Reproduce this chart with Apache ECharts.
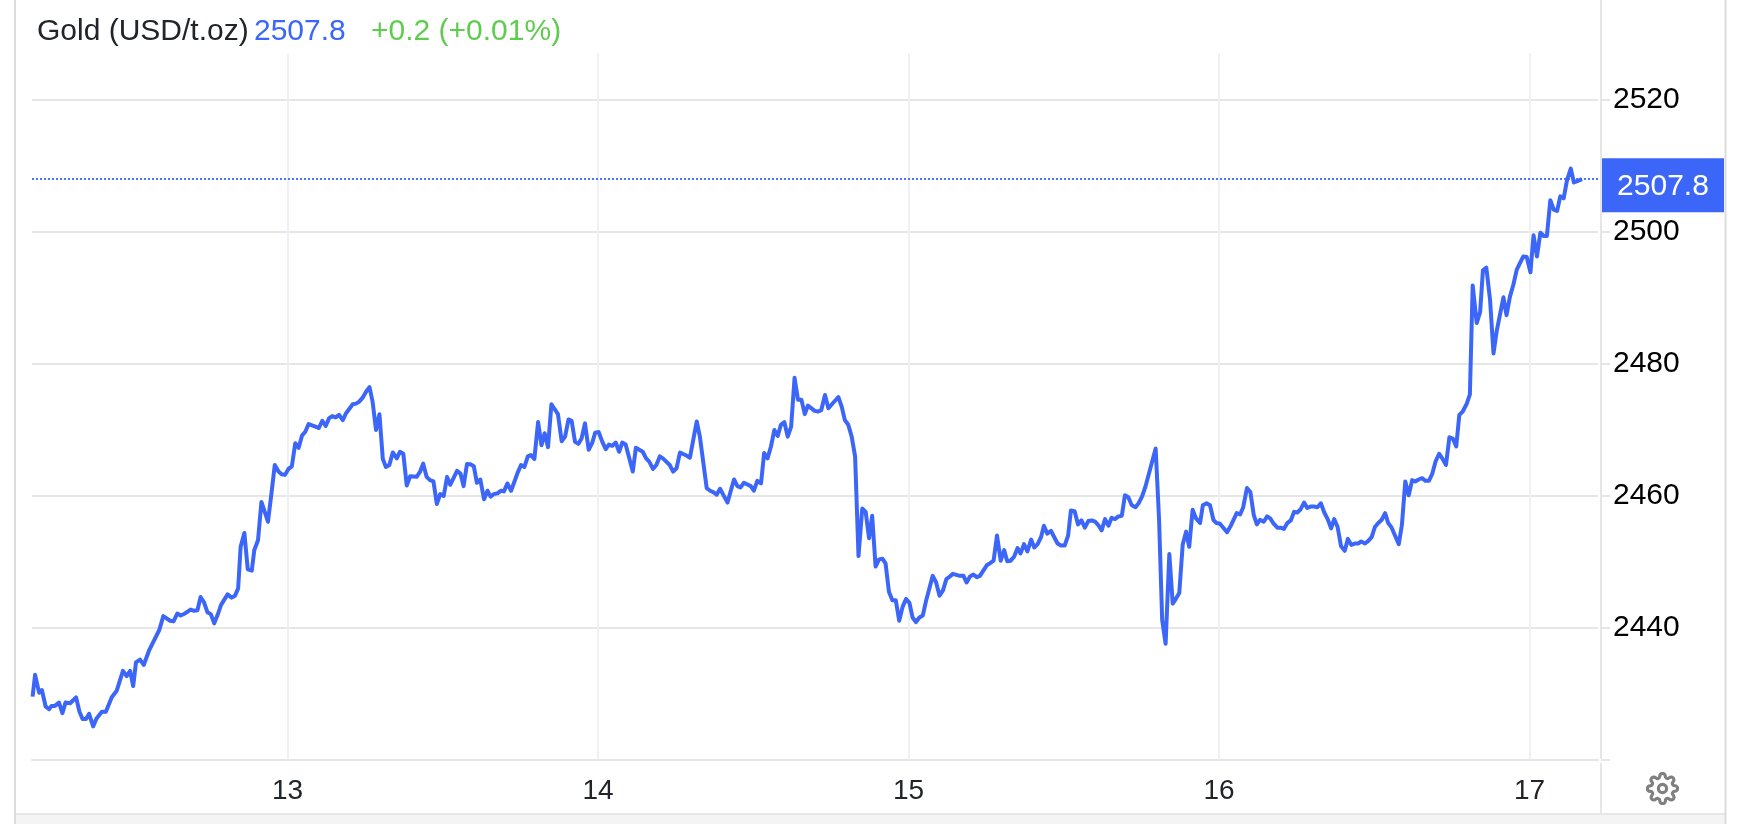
<!DOCTYPE html>
<html><head><meta charset="utf-8">
<style>html,body{margin:0;padding:0;background:#fff}#c{width:1742px;height:824px}</style>
<script src="https://cdn.jsdelivr.net/npm/echarts@6/dist/echarts.min.js"></script>
</head><body><div id="c"></div>
<script>
const seriesName = 'Gold (USD/t.oz)';
const lastPriceText = '2507.8';
const changeText = '+0.2 (+0.01%)';
const lastLevel = 2508.0;
const dayTicks = [13, 14, 15, 16, 17];
const priceTicks = [2420, 2440, 2460, 2480, 2500, 2520];
const priceLabels = [2440, 2460, 2480, 2500, 2520];

const times = [
12.179,12.187,12.200,12.209,12.221,12.232,12.240,12.251,12.264,12.275,12.285,12.300,12.319,12.330,12.340,12.351,12.361,12.374,12.385,12.402,12.415,12.434,12.450,12.470,12.482,12.493,12.503,12.512,12.525,12.537,12.555,12.587,12.600,12.622,12.633,12.645,12.656,12.670,12.688,12.699,12.710,12.720,12.731,12.742,12.753,12.764,12.775,12.786,12.807,12.820,12.831,12.841,
12.849,12.861,12.872,12.885,12.893,12.905,12.916,12.937,12.947,12.959,12.971,12.981,12.992,13.003,13.014,13.025,13.036,13.047,13.057,13.068,13.090,13.101,13.112,13.123,13.134,13.144,13.155,13.166,13.178,13.188,13.210,13.221,13.231,13.242,13.253,13.264,13.274,13.285,13.296,13.307,13.317,13.328,13.339,13.352,13.362,13.373,13.384,13.395,13.416,13.427,13.437,13.448,13.459,13.470,13.481,13.492,13.503,13.514,13.524,13.546,13.557,13.567,13.578,13.589,13.600,13.610,13.621,13.633,13.644,13.654,13.665,13.676,13.687,13.697,13.708,13.720,13.731,13.741,13.752,13.763,13.774,13.784,13.795,13.807,13.818,13.828,13.839,13.850,13.871,13.883,13.894,13.905,13.915,13.926,13.937,13.947,13.958,13.970,13.981,13.991,14.002,
14.014,14.025,14.035,14.046,14.057,14.068,14.078,14.089,14.112,14.122,14.144,14.155,14.165,14.177,14.188,14.199,14.209,14.231,14.242,14.253,14.264,14.286,14.296,14.318,14.328,14.350,14.361,14.371,14.382,14.393,14.417,14.438,14.449,14.459,14.470,14.492,14.502,14.513,14.525,14.535,14.546,14.557,14.568,14.579,14.589,14.600,14.611,14.622,14.633,14.644,14.655,14.666,14.676,14.698,14.708,14.719,14.731,14.742,14.774,14.785,14.795,14.806,14.817,14.828,14.839,14.851,14.862,14.873,14.883,14.894,14.905,14.916,14.926,14.937,14.948,14.959,14.970,
14.981,14.992,15.003,15.013,15.024,15.035,15.046,15.056,15.078,15.089,15.100,15.111,15.122,15.133,15.143,15.165,15.177,15.187,15.198,15.209,15.220,15.230,15.252,15.262,15.274,15.285,15.297,15.308,15.318,15.329,15.340,15.351,15.361,15.372,15.383,15.395,15.405,15.416,15.427,15.436,15.447,15.459,15.480,15.491,15.503,15.514,15.523,15.535,15.546,15.557,15.568,15.579,15.590,15.601,15.611,15.622,15.633,15.644,15.654,15.665,15.676,15.687,15.697,15.708,15.719,15.731,15.741,15.752,15.763,15.796,15.807,15.817,15.828,15.840,15.851,15.862,15.872,15.883,15.894,15.904,15.915,15.926,15.939,15.948,15.960,15.971,15.982,15.992,16.003,16.026,16.037,16.057,16.068,16.078,16.090,16.101,16.112,16.122,16.132,
16.144,16.155,16.165,16.176,16.188,16.199,16.209,16.220,16.231,16.242,16.252,16.263,16.274,16.284,16.295,16.306,16.317,16.328,16.339,16.350,16.361,16.371,16.382,16.393,16.405,16.415,16.426,16.437,16.448,16.458,16.470,16.481,16.492,16.502,16.513,16.524,16.535,16.545,16.556,16.579,16.589,16.600,16.611,16.622,16.632,16.643,16.654,16.665,16.676,16.687,16.698,16.709,16.719,16.731,16.742,16.753,16.764,16.774,16.785,16.798,16.808,16.817,16.830,16.841,16.850,16.861,16.873,16.884,16.894,16.916,16.926,16.937,16.948,16.959,16.980,16.991,17.003,17.013,17.024,17.035,17.046,17.056,17.067,17.078,17.089,17.099,17.110,17.121,17.133,17.143,17.154,17.169
];
const prices = [
2429.6,2432.9,2430.2,2430.6,2428.1,2427.7,2428.2,2428.2,2428.7,2427.1,2428.7,2428.6,2429.5,2427.3,2426.2,2426.2,2427.0,2425.1,2426.3,2427.3,2427.3,2429.5,2430.5,2433.5,2432.7,2433.5,2431.2,2434.8,2435.2,2434.4,2436.7,2439.7,2441.8,2441.1,2441.0,2442.2,2441.9,2442.2,2442.8,2442.6,2442.7,2444.7,2443.9,2442.4,2442.1,2440.7,2442.0,2443.5,2445.1,2444.6,2444.9,2446.0,
2452.3,2454.4,2448.9,2448.7,2451.8,2453.3,2459.1,2456.1,2459.9,2464.7,2463.7,2463.3,2463.2,2464.1,2464.5,2468.0,2467.3,2469.2,2469.7,2470.9,2470.5,2470.3,2471.4,2470.6,2471.8,2472.1,2471.9,2472.3,2471.5,2472.5,2473.9,2474.0,2474.3,2474.9,2475.8,2476.5,2474.3,2470.0,2472.4,2465.6,2464.4,2464.7,2466.6,2465.7,2466.7,2466.4,2461.6,2463.0,2462.9,2463.7,2464.9,2462.9,2462.4,2462.2,2458.8,2460.3,2460.0,2462.9,2461.7,2463.8,2463.4,2461.5,2464.85,2464.8,2464.5,2462.0,2462.5,2459.5,2460.8,2459.9,2460.3,2460.4,2460.8,2460.7,2461.9,2460.8,2462.2,2463.5,2464.7,2464.4,2466.0,2466.2,2465.6,2471.2,2467.7,2469.5,2467.4,2473.9,2472.4,2468.3,2469.0,2471.6,2471.4,2468.2,2467.9,2468.7,2471.0,2467.0,2468.0,2469.6,2469.7,
2468.2,2467.1,2467.8,2467.6,2468.1,2466.7,2468.1,2467.8,2463.7,2467.3,2466.7,2465.7,2465.2,2464.1,2464.7,2466.0,2465.7,2464.7,2463.7,2464.2,2466.6,2466.1,2465.8,2471.3,2469.0,2461.2,2460.8,2460.6,2460.2,2461.1,2459.0,2462.5,2461.5,2461.3,2462.0,2461.5,2460.8,2462.3,2461.9,2466.5,2465.7,2467.5,2470.0,2469.1,2470.8,2471.2,2469.0,2470.5,2477.9,2474.6,2474.6,2472.4,2473.7,2472.9,2472.8,2473.0,2475.3,2473.3,2475.0,2473.5,2471.5,2470.8,2469.0,2466.0,2450.9,2458.1,2457.6,2453.6,2457.0,2449.3,2450.4,2450.5,2449.8,2445.5,2444.2,2444.2,2441.1,
2443.2,2444.4,2443.8,2441.6,2440.9,2441.6,2441.9,2444.0,2447.9,2446.9,2444.9,2445.7,2447.4,2447.8,2448.2,2447.9,2447.9,2446.9,2447.8,2448.1,2447.7,2447.9,2449.5,2449.8,2450.2,2454.0,2450.2,2451.8,2450.1,2450.2,2450.8,2452.1,2451.3,2452.7,2451.6,2453.4,2452.2,2452.7,2453.8,2455.5,2454.3,2454.7,2452.8,2452.5,2452.5,2454.0,2457.8,2457.7,2455.7,2456.3,2455.2,2456.2,2456.3,2456.1,2455.6,2454.8,2456.5,2455.5,2456.7,2456.5,2456.9,2457.0,2460.1,2459.8,2458.6,2458.3,2458.9,2459.9,2461.4,2467.2,2456.4,2441.2,2437.6,2451.2,2443.7,2444.5,2445.3,2452.6,2454.6,2452.3,2457.9,2456.6,2455.9,2458.6,2458.9,2458.6,2456.4,2455.9,2455.8,2454.5,2455.4,2457.4,2457.2,2458.3,2461.2,2460.6,2457.1,2455.7,2456.4,
2456.1,2456.9,2456.6,2455.8,2455.2,2455.2,2455.0,2455.9,2456.3,2457.6,2457.5,2458.0,2459.0,2458.2,2458.4,2458.4,2458.3,2458.9,2457.5,2456.5,2455.1,2456.5,2455.3,2452.4,2451.7,2453.5,2452.6,2452.8,2452.8,2453.1,2452.8,2453.2,2453.8,2455.3,2455.9,2456.4,2457.4,2455.9,2455.2,2452.7,2455.6,2462.2,2460.1,2462.4,2462.2,2462.5,2462.7,2462.3,2462.3,2463.4,2465.3,2466.4,2465.7,2464.7,2468.9,2468.7,2467.5,2472.3,2472.8,2474.0,2475.4,2491.9,2486.2,2487.9,2494.2,2494.6,2489.7,2481.6,2484.9,2490.1,2487.4,2490.2,2492.0,2494.3,2496.3,2496.2,2493.9,2499.5,2496.3,2499.9,2499.4,2499.4,2504.8,2503.4,2503.2,2505.4,2505.1,2507.9,2509.6,2507.5,2507.7,2508.0
];

const BLUE = '#3c66f8', GRID = '#e6e6e6', VGRID = '#eef2f6', BORDER = '#dcdcdc';
const FONT = '"Liberation Sans", Arial, sans-serif';
const GEAR_PATH = 'M12 15a3 3 0 1 0 0-6 3 3 0 0 0 0 6z M19.4 15a1.65 1.65 0 0 0 .33 1.82l.06.06a2 2 0 0 1 0 2.83 2 2 0 0 1-2.83 0l-.06-.06a1.65 1.65 0 0 0-1.82-.33 1.65 1.65 0 0 0-1 1.51V21a2 2 0 0 1-2 2 2 2 0 0 1-2-2v-.09A1.65 1.65 0 0 0 9 19.4a1.65 1.65 0 0 0-1.82.33l-.06.06a2 2 0 0 1-2.83 0 2 2 0 0 1 0-2.83l.06-.06a1.65 1.65 0 0 0 .33-1.82 1.65 1.65 0 0 0-1.51-1H3a2 2 0 0 1-2-2 2 2 0 0 1 2-2h.09A1.65 1.65 0 0 0 4.6 9a1.65 1.65 0 0 0-.33-1.82l-.06-.06a2 2 0 0 1 0-2.83 2 2 0 0 1 2.83 0l.06.06a1.65 1.65 0 0 0 1.82.33H9a1.65 1.65 0 0 0 1-1.51V3a2 2 0 0 1 2-2 2 2 0 0 1 2 2v.09a1.65 1.65 0 0 0 1 1.51 1.65 1.65 0 0 0 1.82-.33l.06-.06a2 2 0 0 1 2.83 0 2 2 0 0 1 0 2.83l-.06.06a1.65 1.65 0 0 0-.33 1.82V9a1.65 1.65 0 0 0 1.51 1H21a2 2 0 0 1 2 2 2 2 0 0 1-2 2h-.09a1.65 1.65 0 0 0-1.51 1z';
const GEAR_SVG = 'data:image/svg+xml,' + encodeURIComponent('<svg xmlns="http://www.w3.org/2000/svg" width="66" height="66" viewBox="0 0 24 24" fill="none" stroke="#808080" stroke-width="2.3"><path d="' + GEAR_PATH + '"/></svg>');

const chart = echarts.init(document.getElementById('c'), null, {renderer: 'canvas'});
const titleStyle = c => ({fontFamily: FONT, fontSize: 30, fontWeight: 'normal', color: c});
chart.setOption({
  animation: false,
  backgroundColor: '#fff',
  title: [
    {text: seriesName, left: 37, top: 17, padding: 0, textStyle: titleStyle('#212529')},
    {text: lastPriceText, left: 254, top: 17, padding: 0, textStyle: titleStyle(BLUE)},
    {text: changeText, left: 371, top: 17, padding: 0, textStyle: titleStyle('#5fcc4f')}
  ],
  grid: {left: 32, right: 144, top: 53, bottom: 64, containLabel: false},
  xAxis: {
    type: 'value', min: 12.1771, max: 17.2206, position: 'bottom',
    axisLine: {show: true, lineStyle: {color: GRID, width: 2}},
    axisTick: {show: false, customValues: dayTicks},
    splitLine: {show: true, lineStyle: {color: VGRID, width: 2}},
    axisLabel: {customValues: dayTicks, margin: 17, fontFamily: FONT, fontSize: 28, color: '#212529', formatter: v => String(Math.round(v))}
  },
  yAxis: {
    type: 'value', min: 2420, max: 2527.12, position: 'right', offset: 3,
    axisLine: {show: false},
    axisTick: {show: true, length: 9, customValues: priceTicks, lineStyle: {color: GRID, width: 2}},
    splitLine: {show: true, lineStyle: {color: GRID, width: 2}},
    axisLabel: {customValues: priceLabels, margin: 12, fontFamily: FONT, fontSize: 30, color: '#000', formatter: v => String(v)}
  },
  series: [{
    type: 'line', name: seriesName, showSymbol: false, smooth: false, z: 5,
    lineStyle: {color: BLUE, width: 4, join: 'round'},
    data: times.map((t, i) => [t, prices[i]]),
    markLine: {
      silent: true, symbol: 'none', precision: 2, z: 4,
      lineStyle: {color: BLUE, type: [2, 2], width: 1.8},
      label: {
        show: true, position: 'end', distance: 4, offset: [0, 6], align: 'left', verticalAlign: 'middle',
        formatter: '{box|' + lastPriceText + '}',
        rich: {box: {width: 122, height: 51, lineHeight: 51, padding: [3, 0, 0, 0], align: 'center', backgroundColor: BLUE, color: '#fff', fontFamily: FONT, fontSize: 30}}
      },
      data: [{yAxis: lastLevel}]
    }
  }],
  graphic: [
    {type: 'rect', silent: true, z: -1, shape: {x: 15, y: 813, width: 1710, height: 11}, style: {fill: '#f4f4f4'}},
    {type: 'line', silent: true, z: 1, shape: {x1: 15, y1: 814, x2: 1725, y2: 814}, style: {stroke: GRID, lineWidth: 2}},
    {type: 'line', silent: true, z: 1, shape: {x1: 15, y1: 0, x2: 15, y2: 824}, style: {stroke: BORDER, lineWidth: 2}},
    {type: 'line', silent: true, z: 1, shape: {x1: 1725.5, y1: 0, x2: 1725.5, y2: 824}, style: {stroke: BORDER, lineWidth: 2}},
    {type: 'line', silent: true, z: 1, shape: {x1: 1601, y1: 0, x2: 1601, y2: 759}, style: {stroke: GRID, lineWidth: 2}},
    {type: 'line', silent: true, z: 1, shape: {x1: 1601, y1: 763, x2: 1601, y2: 813}, style: {stroke: GRID, lineWidth: 2}},
    {type: 'image', silent: true, z: 10, style: {image: GEAR_SVG, x: 1646, y: 772, width: 33, height: 33}}
  ]
});
</script></body></html>
